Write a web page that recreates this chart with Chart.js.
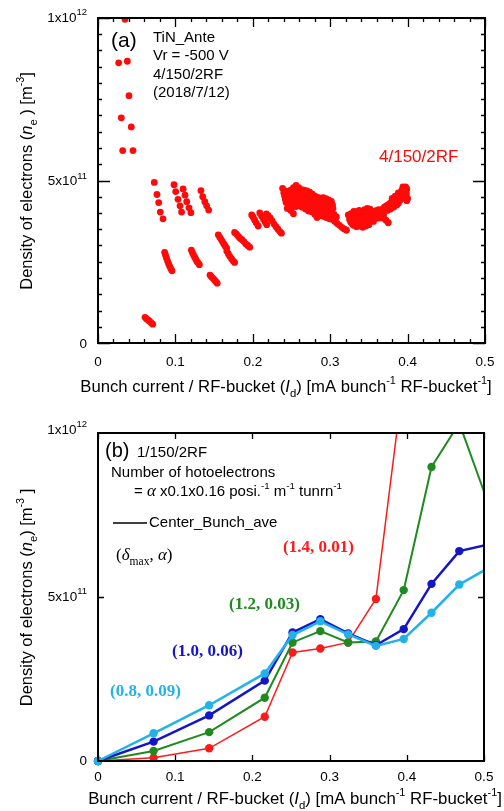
<!DOCTYPE html>
<html><head><meta charset="utf-8">
<script src="https://cdn.jsdelivr.net/npm/chart.js@4.4.0/dist/chart.umd.min.js"></script>
<style>html,body{margin:0;padding:0;background:#fff;}canvas{display:block;}</style>
</head><body>
<canvas id="c1" width="504" height="400"></canvas>
<canvas id="c2" width="504" height="411"></canvas>
<script>
// ---------- DATA ----------
// Panel (a): [bunch current (mA/bunch/RF-bucket), electron density (x1e12 m^-3)]
const panelAPoints = [
  [0.0349,0.996],[0.0267,0.862],[0.0379,0.867],[0.0400,0.761],[0.0301,0.693],[0.0430,0.665],[0.0319,0.592],[0.0452,0.592],
  [0.0607,0.079],[0.0625,0.075],[0.0645,0.071],[0.0665,0.067],[0.0685,0.063],[0.0707,0.058],
  [0.0727,0.494],[0.0762,0.457],[0.0784,0.432],[0.0805,0.403],[0.0840,0.382],
  [0.0861,0.279],[0.0873,0.270],[0.0886,0.261],[0.0899,0.252],[0.0912,0.244],[0.0926,0.236],[0.0940,0.229],[0.0956,0.222],
  [0.0982,0.487],[0.1004,0.466],[0.1034,0.442],[0.1060,0.422],[0.1080,0.403],
  [0.1100,0.474],[0.1124,0.455],[0.1146,0.435],[0.1176,0.416],[0.1200,0.401],
  [0.1206,0.286],[0.1220,0.278],[0.1235,0.271],[0.1250,0.264],[0.1265,0.257],[0.1280,0.250],[0.1295,0.246],[0.1310,0.241],
  [0.1330,0.469],[0.1353,0.450],[0.1380,0.435],[0.1404,0.422],[0.1430,0.409],
  [0.1447,0.209],[0.1465,0.204],[0.1485,0.199],[0.1505,0.194],[0.1522,0.189],[0.1540,0.184],
  [0.1554,0.333],[0.1572,0.326],[0.1590,0.319],[0.1608,0.312],[0.1626,0.305],[0.1644,0.298],[0.1662,0.292],
  [0.1665,0.282],[0.1685,0.274],[0.1705,0.266],[0.1725,0.259],[0.1745,0.253],[0.1765,0.248],
  [0.1765,0.340],[0.1790,0.335],[0.1815,0.328],[0.1835,0.322],[0.1860,0.318],[0.1885,0.312],[0.1910,0.305],[0.1935,0.300],[0.1960,0.295],
  [0.1986,0.394],[0.2005,0.387],[0.2025,0.378],[0.2045,0.369],[0.2070,0.360],
  [0.2090,0.400],[0.2115,0.390],[0.2140,0.380],[0.2160,0.372],[0.2180,0.364],
  [0.2175,0.397],[0.2200,0.392],[0.2225,0.385],[0.2250,0.376],[0.2275,0.366],[0.2300,0.358],[0.2325,0.350],[0.2350,0.343],[0.2370,0.338],
  [0.2385,0.476],[0.2420,0.468],[0.2455,0.463],[0.2490,0.470],[0.2525,0.478],[0.2560,0.485],[0.2595,0.478],[0.2630,0.472],[0.2665,0.470],[0.2700,0.468],
  [0.2735,0.464],[0.2770,0.458],[0.2805,0.452],[0.2840,0.448],[0.2875,0.446],[0.2910,0.447],[0.2945,0.444],[0.2980,0.440],[0.3015,0.436],
  [0.2400,0.462],[0.2435,0.456],[0.2470,0.460],[0.2505,0.466],[0.2540,0.472],[0.2575,0.470],[0.2610,0.466],[0.2645,0.462],[0.2680,0.460],[0.2715,0.457],
  [0.2750,0.453],[0.2785,0.447],[0.2820,0.442],[0.2855,0.439],[0.2890,0.437],[0.2925,0.437],[0.2960,0.434],[0.2995,0.430],[0.3030,0.425],
  [0.2410,0.452],[0.2445,0.447],[0.2480,0.452],[0.2515,0.458],[0.2550,0.462],[0.2585,0.458],[0.2620,0.455],[0.2655,0.452],[0.2690,0.450],[0.2725,0.447],
  [0.2760,0.442],[0.2795,0.436],[0.2830,0.432],[0.2865,0.430],[0.2900,0.428],[0.2935,0.427],[0.2970,0.424],[0.3005,0.420],[0.3035,0.414],
  [0.2420,0.442],[0.2455,0.438],[0.2490,0.443],[0.2525,0.449],[0.2560,0.452],[0.2595,0.448],[0.2630,0.445],[0.2665,0.442],[0.2700,0.439],[0.2735,0.436],
  [0.2770,0.431],[0.2805,0.425],[0.2840,0.421],[0.2875,0.420],[0.2910,0.418],[0.2945,0.416],[0.2980,0.411],[0.3010,0.405],
  [0.2430,0.432],[0.2465,0.428],[0.2500,0.434],[0.2535,0.440],[0.2570,0.442],[0.2605,0.438],[0.2640,0.435],[0.2675,0.432],[0.2710,0.428],[0.2745,0.425],
  [0.2780,0.420],[0.2815,0.414],[0.2850,0.410],[0.2885,0.410],[0.2920,0.408],[0.2955,0.404],[0.2990,0.398],[0.3020,0.392],
  [0.2470,0.420],[0.2510,0.418],[0.2545,0.430],[0.2580,0.432],[0.2620,0.428],[0.2660,0.424],[0.2700,0.420],[0.2740,0.415],[0.2780,0.412],[0.2820,0.404],
  [0.2860,0.400],[0.2900,0.400],[0.2940,0.396],[0.2980,0.390],
  [0.2445,0.414],[0.2490,0.408],[0.2525,0.398],[0.2560,0.420],[0.2600,0.422],[0.2640,0.418],[0.2680,0.412],[0.2720,0.406],[0.2760,0.404],[0.2800,0.396],
  [0.2830,0.386],[0.2870,0.392],[0.2910,0.390],[0.2950,0.386],[0.2990,0.382],
  [0.3030,0.380],[0.3060,0.374],[0.3090,0.368],[0.3120,0.362],[0.3150,0.356],[0.3180,0.351],[0.3210,0.347],[0.3050,0.396],[0.3080,0.388],
  [0.3234,0.394],[0.3270,0.398],[0.3305,0.405],[0.3340,0.404],[0.3375,0.408],[0.3410,0.405],[0.3445,0.410],[0.3480,0.414],[0.3515,0.412],[0.3550,0.405],
  [0.3260,0.388],[0.3300,0.392],[0.3335,0.396],[0.3370,0.399],[0.3405,0.398],[0.3440,0.402],[0.3475,0.405],[0.3510,0.402],[0.3545,0.398],
  [0.3250,0.380],[0.3285,0.384],[0.3320,0.388],[0.3355,0.390],[0.3390,0.392],[0.3425,0.390],[0.3460,0.395],[0.3495,0.396],[0.3530,0.392],[0.3565,0.388],
  [0.3265,0.372],[0.3300,0.376],[0.3335,0.380],[0.3370,0.383],[0.3405,0.383],[0.3440,0.384],[0.3475,0.387],[0.3510,0.386],[0.3545,0.382],
  [0.3280,0.368],[0.3315,0.370],[0.3350,0.372],[0.3385,0.376],[0.3420,0.375],[0.3455,0.378],[0.3490,0.380],[0.3525,0.378],[0.3560,0.374],
  [0.3300,0.362],[0.3340,0.358],[0.3380,0.360],[0.3420,0.356],[0.3460,0.360],[0.3500,0.364],
  [0.3580,0.405],[0.3600,0.408],[0.3625,0.410],[0.3650,0.406],[0.3675,0.412],[0.3700,0.418],[0.3725,0.422],[0.3750,0.426],[0.3775,0.430],[0.3800,0.434],
  [0.3825,0.438],[0.3850,0.444],[0.3875,0.452],[0.3900,0.462],[0.3925,0.470],[0.3950,0.476],[0.3975,0.480],[0.3990,0.474],[0.3985,0.460],[0.3960,0.452],
  [0.4000,0.445],[0.3990,0.438],[0.3935,0.446],[0.3905,0.440],[0.3860,0.425],[0.3820,0.418],[0.3780,0.412],[0.3740,0.408],[0.3690,0.395],[0.3686,0.384],
  [0.3720,0.378],[0.3750,0.370],[0.3655,0.392],[0.3625,0.384],[0.3595,0.392],
  [0.3800,0.445],[0.3840,0.452],[0.3880,0.462],[0.3920,0.458],[0.3960,0.465],[0.3940,0.480],[0.3880,0.430],[0.3840,0.432]
];

// Panel (b): bunch current and simulated density (x1e12 m^-3) for (delta_max, alpha)
const bunchCurrentB = [0, 0.072, 0.144, 0.216, 0.252, 0.288, 0.324, 0.360, 0.396, 0.432, 0.468, 0.504];
const density14_001 = [0, 0.010, 0.0387, 0.135, 0.331, 0.343, 0.3615, 0.494, 1.17];
const density12_003 = [0, 0.0305, 0.088, 0.193, 0.3615, 0.396, 0.3615, 0.3646, 0.521, 0.8965, 1.03, 0.795];
const density10_006 = [0, 0.059, 0.139, 0.245, 0.392, 0.4325, 0.389, 0.353, 0.402, 0.540, 0.640, 0.659];
const density08_009 = [0, 0.0844, 0.170, 0.267, 0.384, 0.426, 0.386, 0.351, 0.372, 0.452, 0.538, 0.586];

// Tick labels
const xTickValues = [0, 0.1, 0.2, 0.3, 0.4, 0.5];
const xTickLabels = ['0', '0.1', '0.2', '0.3', '0.4', '0.5'];
const yTickValues = [0, 0.5, 1];
const yTickLabels = [['0', ''], ['5x10', '11'], ['1x10', '12']];

// ---------- DRAWING HELPERS ----------
const SANS = '"Liberation Sans", Arial, sans-serif';
const SERIF = '"Liberation Serif", "Times New Roman", serif';
function fontStr(p, size) {
  return (p.i ? 'italic ' : '') + (p.b ? 'bold ' : '') + size.toFixed(2) + 'px ' + (p.f || SANS);
}
function layoutRich(ctx, parts, size) {
  let w = 0; const items = [];
  for (const p of parts) {
    let s = size, dy = 0;
    if (p.k === 'sub') { s = size * 0.68; dy = size * 0.32; }
    else if (p.k === 'sup') { s = size * 0.65; dy = -size * 0.45; }
    if (p.s) s = p.s;
    if (p.dy !== undefined) dy = p.dy;
    ctx.font = fontStr(p, s);
    const pw = ctx.measureText(p.t).width;
    items.push({ p, s, dy, x: w });
    w += pw;
  }
  return { items, w };
}
function drawRich(ctx, parts, x, y, size, align, color) {
  const L = layoutRich(ctx, parts, size);
  const x0 = align === 'center' ? x - L.w / 2 : align === 'right' ? x - L.w : x;
  ctx.textBaseline = 'alphabetic'; ctx.textAlign = 'left';
  for (const it of L.items) {
    ctx.font = fontStr(it.p, it.s);
    ctx.fillStyle = it.p.c || color || '#000';
    ctx.fillText(it.p.t, x0 + it.x, y + it.dy);
  }
}

function makeFrame(cfg) {
  return {
    id: 'frame',
    afterDraw(chart) {
      const ctx = chart.ctx, a = chart.chartArea, xs = chart.scales.x, ys = chart.scales.y;
      ctx.save();
      ctx.strokeStyle = '#000';
      ctx.lineWidth = 1.3;
      ctx.beginPath();
      for (const t of cfg.xTicks) {
        const px = Math.round(xs.getPixelForValue(t.v)) + 0.5;
        ctx.moveTo(px, a.bottom); ctx.lineTo(px, a.bottom - t.len);
        ctx.moveTo(px, a.top); ctx.lineTo(px, a.top + t.len);
      }
      for (const t of cfg.yTicks) {
        const py = Math.round(ys.getPixelForValue(t.v)) + 0.5;
        ctx.moveTo(a.left, py); ctx.lineTo(a.left + t.len, py);
        ctx.moveTo(a.right, py); ctx.lineTo(a.right - t.len, py);
      }
      ctx.stroke();
      ctx.lineWidth = 2;
      ctx.strokeRect(a.left, a.top, a.right - a.left, a.bottom - a.top);
      xTickValues.forEach((v, i) => {
        drawRich(ctx, [{ t: xTickLabels[i] }], xs.getPixelForValue(v), cfg.xLabelY, 13.5, 'center');
      });
      yTickValues.forEach((v, i) => {
        const parts = [{ t: yTickLabels[i][0] }];
        if (yTickLabels[i][1]) parts.push({ t: yTickLabels[i][1], s: 9.5, dy: -6.5 });
        drawRich(ctx, parts, 87, ys.getPixelForValue(v) + cfg.yLabelDy[i], 13.5, 'right');
      });
      drawRich(ctx, cfg.xTitle, cfg.xTitleX, cfg.xTitleY, cfg.xTitleSize || 16.5, 'center');
      ctx.save();
      ctx.translate(cfg.yTitleX, cfg.yTitleY);
      ctx.rotate(-Math.PI / 2);
      drawRich(ctx, cfg.yTitle, 0, 0, 16.5, 'center');
      ctx.restore();
      for (const tx of cfg.texts) drawRich(ctx, tx.parts, tx.x, tx.y, tx.size, 'left', tx.color);
      if (cfg.extra) cfg.extra(ctx);
      ctx.restore();
    }
  };
}

const xTitleParts = [
  { t: 'Bunch current / RF-bucket (' }, { t: 'I', i: true }, { t: 'd', k: 'sub' },
  { t: ') [mA bunch' }, { t: '-1', k: 'sup' }, { t: ' RF-bucket' }, { t: '-1', k: 'sup' }, { t: ']' }
];
const yTitleParts = [
  { t: 'Density of electrons (' }, { t: 'n', i: true }, { t: 'e', k: 'sub' },
  { t: ' ) [m' }, { t: '-3', k: 'sup' }, { t: ']' }
];
const yTitlePartsB = [
  { t: 'Density of electrons (' }, { t: 'n', i: true }, { t: 'e', k: 'sub' },
  { t: ') [m' }, { t: '-3', k: 'sup' }, { t: ' ]' }
];

// ---------- PANEL (a) ----------
const ticksA_x = [], ticksA_y = [];
for (let i = 0; i <= 25; i++) ticksA_x.push({ v: i * 0.02, len: i % 5 === 0 ? 9 : 4 });
for (let i = 0; i <= 20; i++) ticksA_y.push({ v: i * 0.05, len: i % 10 === 0 ? 12 : 4 });

new Chart(document.getElementById('c1'), {
  type: 'scatter',
  data: {
    datasets: [{
      data: panelAPoints.map(p => ({ x: p[0], y: p[1] })),
      backgroundColor: '#ff0a0a', borderWidth: 0, pointRadius: 3.4, pointHoverRadius: 3.4
    }]
  },
  options: {
    responsive: false, animation: false, devicePixelRatio: 1,
    layout: { padding: { left: 98, right: 19, top: 18, bottom: 57 } },
    plugins: { legend: { display: false }, tooltip: { enabled: false } },
    scales: {
      x: { type: 'linear', display: false, min: 0, max: 0.5 },
      y: { type: 'linear', display: false, min: 0, max: 1 }
    }
  },
  plugins: [makeFrame({
    xTicks: ticksA_x, yTicks: ticksA_y,
    xLabelY: 365.5, yLabelDy: [4.6, 4.6, 3.5],
    xTitle: xTitleParts, xTitleX: 286, xTitleY: 391.5, xTitleSize: 16.7,
    yTitle: yTitleParts, yTitleX: 31.5, yTitleY: 181,
    texts: [
      { parts: [{ t: '(a)' }], x: 111, y: 47, size: 21 },
      { parts: [{ t: 'TiN_Ante' }], x: 153, y: 41.5, size: 15 },
      { parts: [{ t: 'Vr = -500 V' }], x: 153, y: 60, size: 15 },
      { parts: [{ t: '4/150/2RF' }], x: 153, y: 78.5, size: 15 },
      { parts: [{ t: '(2018/7/12)' }], x: 153, y: 96.5, size: 15 },
      { parts: [{ t: '4/150/2RF' }], x: 379, y: 162, size: 17, color: '#ff0a0a' }
    ]
  })]
});

// ---------- PANEL (b) ----------
const colRed = '#ff1a1a', colGreen = '#1f8a1f', colBlue = '#1515c8', colCyan = '#22b2ea';
function series(vals, color, lw) {
  const xs = bunchCurrentB.slice(0, vals.length);
  return {
    data: vals.map((v, i) => ({ x: xs[i], y: v })),
    borderColor: color, backgroundColor: color, pointBackgroundColor: color,
    borderWidth: lw, pointBorderWidth: 0,
    pointRadius: xs.map(x => x > 0.5 ? 0 : 4.2), pointHoverRadius: 4.2,
    fill: false, tension: 0,
    clip: { left: 8, top: 0, right: 0, bottom: 8 }
  };
}
const ticksB_x = xTickValues.map(v => ({ v, len: 6 }));
const ticksB_y = [{ v: 0.5, len: 6 }];

new Chart(document.getElementById('c2'), {
  type: 'line',
  data: {
    datasets: [
      series(density08_009, colCyan, 2.5),
      series(density10_006, colBlue, 2.5),
      series(density12_003, colGreen, 2),
      series(density14_001, colRed, 1.5)
    ]
  },
  options: {
    responsive: false, animation: false, devicePixelRatio: 1,
    layout: { padding: { left: 98, right: 20, top: 33, bottom: 50 } },
    plugins: { legend: { display: false }, tooltip: { enabled: false } },
    scales: {
      x: { type: 'linear', display: false, min: 0, max: 0.5 },
      y: { type: 'linear', display: false, min: 0, max: 1 }
    }
  },
  plugins: [makeFrame({
    xTicks: ticksB_x, yTicks: ticksB_y,
    xLabelY: 380.5, yLabelDy: [4, 3.5, 0.5],
    xTitle: xTitleParts, xTitleX: 295, xTitleY: 404, xTitleSize: 16.8,
    yTitle: yTitlePartsB, yTitleX: 31.5, yTitleY: 197.5,
    texts: [
      { parts: [{ t: '(b)' }], x: 105, y: 57, size: 20 },
      { parts: [{ t: '1/150/2RF' }], x: 137, y: 57.4, size: 15 },
      { parts: [{ t: 'Number of hotoelectrons' }], x: 111, y: 77, size: 15 },
      { parts: [{ t: '= ' }, { t: 'α', i: true, f: SERIF, s: 17 }, { t: ' x0.1x0.16 posi.' }, { t: '-1', k: 'sup' },
                { t: ' m' }, { t: '-1', k: 'sup' }, { t: ' tunrn' }, { t: '-1', k: 'sup' }], x: 134, y: 96, size: 15 },
      { parts: [{ t: 'Center_Bunch_ave' }], x: 149, y: 127, size: 15 },
      { parts: [{ t: '(', f: SERIF }, { t: 'δ', f: SERIF, i: true }, { t: 'max', f: SERIF, k: 'sub' },
                { t: ', ', f: SERIF }, { t: 'α', f: SERIF, i: true }, { t: ')', f: SERIF }], x: 116, y: 160, size: 17 },
      { parts: [{ t: '(1.4, 0.01)', f: SERIF, b: true }], x: 283, y: 152, size: 17, color: colRed },
      { parts: [{ t: '(1.2, 0.03)', f: SERIF, b: true }], x: 229, y: 208.5, size: 17, color: colGreen },
      { parts: [{ t: '(1.0, 0.06)', f: SERIF, b: true }], x: 172, y: 256, size: 17, color: colBlue },
      { parts: [{ t: '(0.8, 0.09)', f: SERIF, b: true }], x: 110, y: 296, size: 17, color: colCyan }
    ],
    extra(ctx) {
      ctx.strokeStyle = '#000'; ctx.lineWidth = 1.5;
      ctx.beginPath(); ctx.moveTo(113, 123); ctx.lineTo(147, 123); ctx.stroke();
    }
  })]
});
</script>
</body></html>
